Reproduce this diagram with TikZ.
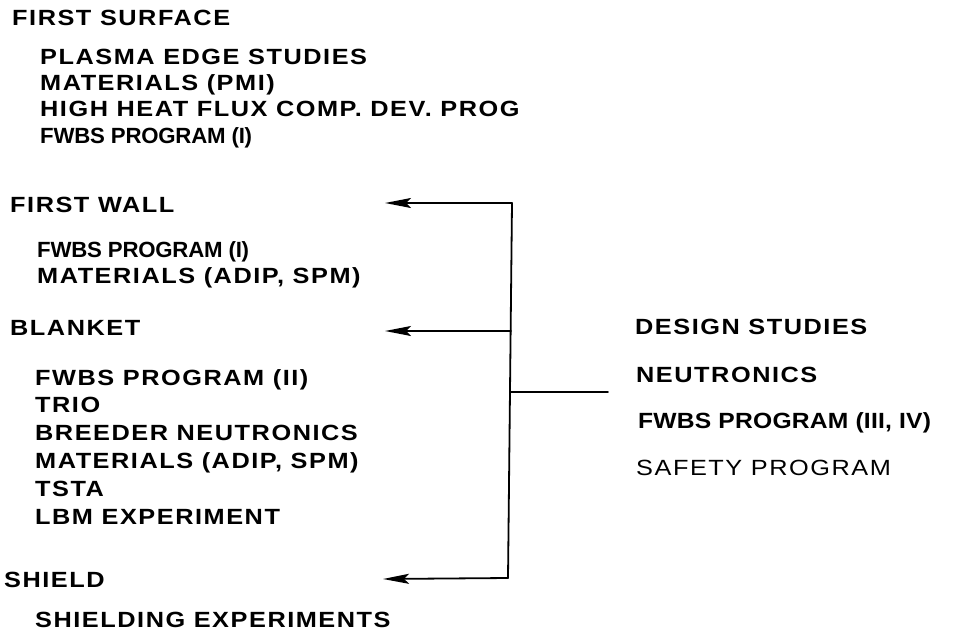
\documentclass[tikz,border=0pt]{standalone}
\usepackage{fontspec}
\setmainfont{Liberation Sans}
\newfontfamily\letw[FakeStretch=1.15, LetterSpace=7]{Liberation Sans}
\newfontfamily\letm[FakeStretch=1.12, LetterSpace=1]{Liberation Sans}
\newfontfamily\letn[FakeStretch=1.01, LetterSpace=-1]{Liberation Sans}
\usetikzlibrary{arrows.meta,positioning}

\begin{document}
\begin{tikzpicture}[
  x=1pt, y=-1pt,
  hd/.style={anchor=base west, inner sep=0pt, font=\letw\fontsize{22}{24}\selectfont\bfseries},
  it/.style={anchor=base west, inner sep=0pt, font=\letw\fontsize{22}{24}\selectfont\bfseries},
  itm/.style={anchor=base west, inner sep=0pt, font=\letm\fontsize{22}{24}\selectfont\bfseries},
  itn/.style={anchor=base west, inner sep=0pt, font=\letn\fontsize{22}{24}\selectfont\bfseries},
  rt/.style={anchor=base west, inner sep=0pt, font=\letw\fontsize{22}{24}\selectfont},
  ln/.style={line width=1.8pt, line cap=round, line join=round},
  arr/.style={-{Stealth[length=26pt, width=10pt, inset=5pt]}, line width=1.8pt, line cap=round, line join=round}
]
  \useasboundingbox (0,0) rectangle (965,634);
  % --- left column ---
  \node[hd] (fsurf) at (12, 26) {FIRST SURFACE};
  \node[it] (pes)  at (40, 64)  {PLASMA EDGE STUDIES};
  \node[it] (pmi)  at (40, 90)  {MATERIALS (PMI)};
  \node[it] (hhf)  at (40, 116) {HIGH HEAT FLUX COMP. DEV. PROG};
  \node[itn] (fw1) at (40, 143) {FWBS PROGRAM (I)};

  \node[hd] (fwall) at (10, 212) {FIRST WALL};
  \node[itn] (fw1b) at (37, 257) {FWBS PROGRAM (I)};
  \node[it] (adip) at (37, 283) {MATERIALS (ADIP, SPM)};

  \node[hd] (blkt) at (10, 335) {BLANKET};
  \node[it] (fw2)  at (35, 385) {FWBS PROGRAM (II)};
  \node[it] (trio) at (35, 412) {TRIO};
  \node[it] (bn)   at (35, 440) {BREEDER NEUTRONICS};
  \node[it] (adipb) at (35, 468) {MATERIALS (ADIP, SPM)};
  \node[it] (tsta) at (35, 496) {TSTA};
  \node[it] (lbm)  at (35, 524) {LBM EXPERIMENT};

  \node[hd] (shld) at (4, 587) {SHIELD};
  \node[it] (sexp) at (35, 627) {SHIELDING EXPERIMENTS};

  % --- right column ---
  \node[it] (ds)   at (635, 334) {DESIGN STUDIES};
  \node[it] (neu)  at (636, 382) {NEUTRONICS};
  \node[itm] (fw34) at (638, 428) {FWBS PROGRAM (III, IV)};
  \node[rt] (saf)  at (636, 475) {SAFETY PROGRAM};

  % --- connectors ---
  \coordinate (stop) at (512, 203);
  \coordinate (smid) at (511, 331);
  \coordinate (sjn)  at (510, 392);
  \coordinate (sbot) at (508, 578);
  \coordinate (fwtip) at (385, 203);
  \coordinate (bltip) at (385, 331);
  \coordinate (shtip) at (383, 579);
  \coordinate (rend) at (608, 392);

  \draw[ln] (stop) -- (sbot);
  \draw[arr] (stop) -- (fwtip);
  \draw[arr] (smid) -- (bltip);
  \draw[arr] (sbot) -- (shtip);
  \draw[ln] (sjn) -- (rend);
\end{tikzpicture}
\end{document}
